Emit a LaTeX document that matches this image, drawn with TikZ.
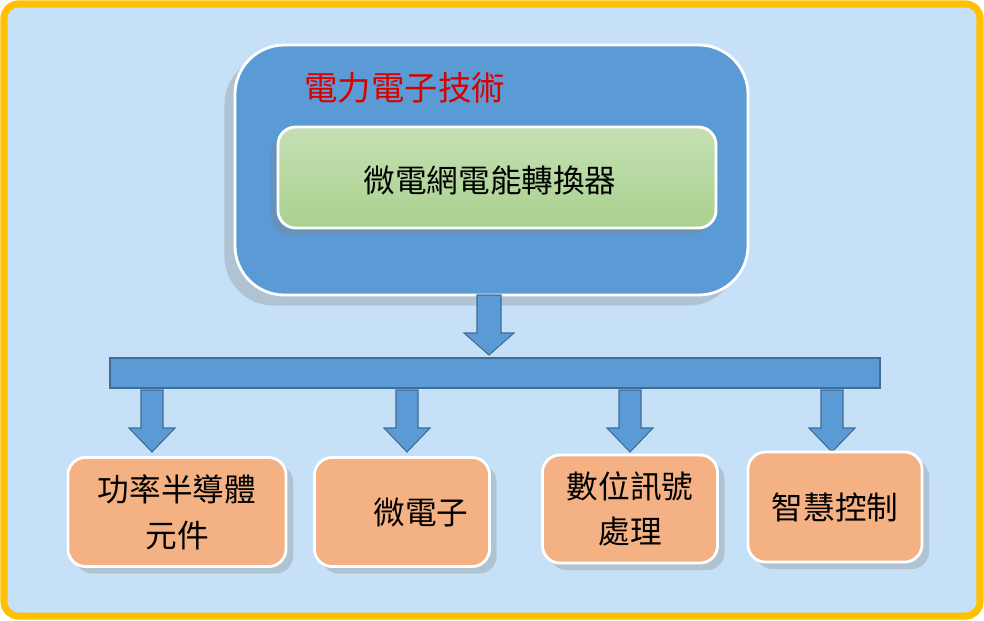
\documentclass[tikz,border=0pt]{standalone}
\usepackage{fontspec}
\newfontfamily\cjk{Noto Sans CJK TC}
\usetikzlibrary{shadows}
\definecolor{bgblue}{HTML}{C6E0F8}
\definecolor{frame}{HTML}{FFC000}
\definecolor{bigblue}{HTML}{5B9BD5}
\definecolor{topgreen}{HTML}{C5E0B4}
\definecolor{botgreen}{HTML}{A9D18E}
\definecolor{peach}{HTML}{F4B183}
\tikzset{
  topic/.style={draw=white, line width=0.8pt, fill=peach, rounded corners=5pt,
    drop shadow={shadow xshift=2pt, shadow yshift=-2pt, opacity=0.3},
    align=center, font=\cjk\fontsize{9}{13}\selectfont, inner sep=0pt},
  blockarrow/.style={fill=bigblue, draw=bigblue!70!black, line width=0.3pt}
}
\begin{document}
\begin{tikzpicture}[x=0.01cm, y=-0.01cm]
			\useasboundingbox (0,0) rectangle (984,620);

			\begin{scope}
				\draw[frame, line width=2pt, fill=bgblue, rounded corners=4pt] (4,4) rectangle (980,616);
			\end{scope}

			\begin{scope}
				\draw[white, line width=0.8pt, fill=bigblue, rounded corners=14pt,
					drop shadow={shadow xshift=-3pt, shadow yshift=-3pt, opacity=0.3}] (235,45) rectangle (748,295);
				\node[text=red!85!black, font=\cjk\fontsize{9.5}{12}\selectfont, anchor=west] (title) at (292,88) {電力電子技術};
				\draw[white, line width=0.8pt, top color=topgreen, bottom color=botgreen, rounded corners=5pt,
					drop shadow={shadow xshift=-2pt, shadow yshift=-2pt, opacity=0.3}] (278,127) rectangle (716,228);
				\node[font=\cjk\fontsize{9}{12}\selectfont] (conv) at (490,180) {微電網電能轉換器};
			\end{scope}

			\begin{scope}
				\draw[blockarrow] (477,295) -- (501,295) -- (501,333) -- (514,333) -- (489,355) -- (464,333) -- (477,333) -- cycle;
				\draw[blockarrow] (110,358) rectangle (880,388);
				\foreach \x in {152,407,630,832}
					\draw[blockarrow] (\x-11,390) -- (\x+11,390) -- (\x+11,428) -- (\x+23,428) -- (\x,452) -- (\x-23,428) -- (\x-11,428) -- cycle;
			\end{scope}

			\begin{scope}
				\node[topic, minimum width=2.18cm, minimum height=1.09cm] (semi) at (177,512) {功率半導體\\元件};
				\node[topic, minimum width=1.75cm, minimum height=1.09cm] (micro) at (402,512) {\hspace{1.2em}微電子};
				\node[topic, minimum width=1.75cm, minimum height=1.08cm] (dsp) at (630,509) {數位訊號\\處理};
				\node[topic, minimum width=1.74cm, minimum height=1.10cm] (ctrl) at (835,507) {智慧控制};
			\end{scope}
		\end{tikzpicture}
\end{document}
